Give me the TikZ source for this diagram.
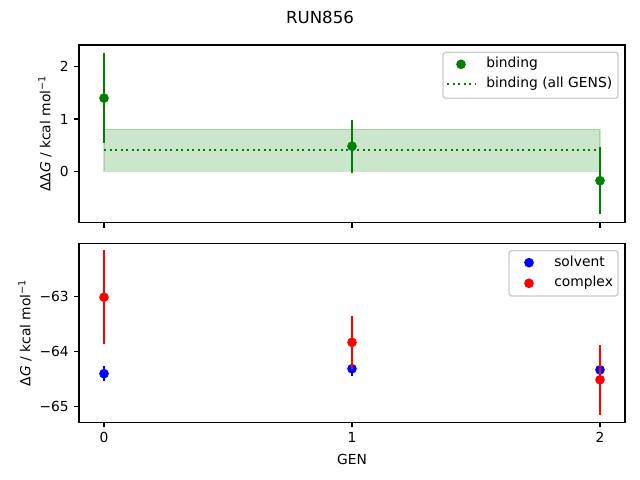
\documentclass[tikz,border=0pt]{standalone}
\usepackage{fontspec}
\setmainfont{DejaVu Sans}
\usepackage{tikz}
\usetikzlibrary{positioning}
\definecolor{mplgreen}{rgb}{0,0.5,0}
\definecolor{legendgray}{gray}{0.8}

\begin{document}
\begin{tikzpicture}[
  x=0.254mm, y=0.254mm,
  axframe/.style={draw=black, line width=0.8pt},
  tickmark/.style={line width=0.8pt},
  ticklabel/.style={inner sep=0pt},
  errbar/.style={line width=1.5pt},
  dot/.style={circle, inner sep=0pt, minimum size=7pt},
  meanline/.style={mplgreen, line width=1.5pt, dash pattern=on 1.5pt off 2.475pt},
  legendbox/.style={draw=legendgray, fill=white, fill opacity=0.8, line width=1pt, rounded corners=2pt},
  legendtext/.style={anchor=west, inner sep=0pt, text height=7.6pt, text depth=2.3pt},
  axlabel/.style={inner sep=0pt}
]
  \useasboundingbox (0,0) rectangle (640,480);

  \node[font=\large] (title) at (320,463) {RUN856};

  % top axes
  \begin{scope}[shift={(104,308.7)}, x=62.99mm, y=13.28mm]
    \filldraw[fill=mplgreen, draw=mplgreen, opacity=0.2, line width=1pt] (0,0) rectangle (2,0.80);
    \draw[meanline] (0,0.41) -- (2,0.41);
    \foreach \gen/\val/\err in {0/1.40/0.86, 1/0.48/0.51, 2/-0.18/0.64} {
      \draw[errbar, mplgreen] (\gen,\val-\err) -- (\gen,\val+\err);
      \node[dot, fill=mplgreen] (bind\gen) at (\gen,\val) {};
    }
  \end{scope}

  % bottom axes
  \begin{scope}[shift={(104,183.3)}, x=62.99mm, y=13.97mm]
    \foreach \gen/\val/\err in {0/-64.40/0.14, 1/-64.31/0.14, 2/-64.33/0.10} {
      \draw[errbar, blue] (\gen,\val+63-\err) -- (\gen,\val+63+\err);
      \node[dot, fill=blue] (solv\gen) at (\gen,\val+63) {};
    }
    \foreach \gen/\val/\err in {0/-63.01/0.85, 1/-63.83/0.48, 2/-64.51/0.64} {
      \draw[errbar, red] (\gen,\val+63-\err) -- (\gen,\val+63+\err);
      \node[dot, fill=red] (cplx\gen) at (\gen,\val+63) {};
    }
  \end{scope}

  \draw[axframe] (79,257.3) rectangle (625,435);
  \draw[axframe] (79,57.7) rectangle (625,236.7);

  \foreach \gen/\px in {0/104, 1/352, 2/600} {
    \draw[tickmark] (\px,257.3) -- ++(0,-3.5pt);
    \draw[tickmark] (\px,57.7) -- ++(0,-3.5pt) node[ticklabel, below=3.5pt] (gen\gen) {\gen};
  }
  \foreach \v/\py in {0/308.7, 1/361.0, 2/413.3}
    \draw[tickmark] (79,\py) -- ++(-3.5pt,0) node[ticklabel, left=3.5pt] (ddg\v) {\v};
  \foreach \v/\py in {63/183.3, 64/128.3, 65/73.3}
    \draw[tickmark] (79,\py) -- ++(-3.5pt,0) node[ticklabel, left=3.5pt] (dg\v) {−\v};

  \node[axlabel, rotate=90] (ddglabel) at (45,346.2) {ΔΔ\textit{G} / kcal mol\textsuperscript{−1}};
  \node[axlabel, rotate=90] (dglabel) at (25,147.2) {Δ\textit{G} / kcal mol\textsuperscript{−1}};
  \node[axlabel, below=7.5pt of gen1] (genlabel) {GEN};

  \draw[legendbox] (443,381.7) rectangle (618,427.7);
  \node[dot, fill=mplgreen] (legbind) at (461,415.7) {};
  \node[legendtext] (legbindtext) at (486,415.7) {binding};
  \draw[meanline] (447,395.7) coordinate (legmeanstart) -- (475.5,395.7) coordinate (legmeanend);
  \node[legendtext] (legmeantext) at (486,395.7) {binding (all GENS)};

  \draw[legendbox] (509,184) rectangle (618,229.3);
  \node[dot, fill=blue] (legsolv) at (529,217.3) {};
  \node[legendtext] (legsolvtext) at (554,217.3) {solvent};
  \node[dot, fill=red] (legcplx) at (529,196.7) {};
  \node[legendtext] (legcplxtext) at (554,196.7) {complex};
\end{tikzpicture}
\end{document}
